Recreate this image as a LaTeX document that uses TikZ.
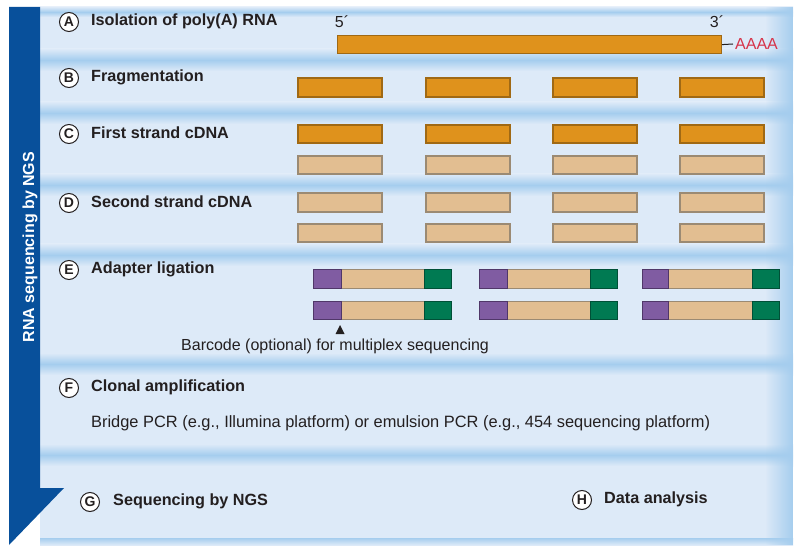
\documentclass[tikz,border=0pt]{standalone}
\usepackage{fontspec}
\setmainfont{Liberation Sans}
\usetikzlibrary{fadings}
\definecolor{panel}{RGB}{221,234,248}
\definecolor{stripe}{RGB}{165,205,238}
\definecolor{barblue}{RGB}{8,80,155}
\definecolor{orangeF}{RGB}{223,146,28}
\definecolor{orangeD}{RGB}{160,105,20}
\definecolor{tanF}{RGB}{226,190,145}
\definecolor{tanD}{RGB}{155,138,115}
\definecolor{purpF}{RGB}{128,92,162}
\definecolor{purpD}{RGB}{80,55,105}
\definecolor{greenF}{RGB}{0,122,82}
\definecolor{greenD}{RGB}{0,80,55}
\definecolor{polyA}{RGB}{214,52,74}
\definecolor{ink}{RGB}{35,31,32}
\tikzfading[name=fadeinright, left color=transparent!100, right color=transparent!0]
\tikzset{
  lbl/.style={font=\fontsize{16.2}{18}\selectfont\bfseries, text=ink, anchor=west, inner sep=0pt},
  plain/.style={font=\fontsize{16}{18}\selectfont, text=ink, inner sep=0pt},
  circ/.style={circle, draw=ink, line width=1pt, fill=white, minimum size=19pt, inner sep=0pt,
    font=\fontsize{14}{14}\selectfont\bfseries, text=ink},
  obar/.style={fill=orangeF, draw=orangeD, line width=1.2pt},
  tbar/.style={fill=tanF, draw=tanD, line width=1.2pt},
  pbar/.style={fill=purpF, draw=purpD, line width=1pt},
  gbar/.style={fill=greenF, draw=greenD, line width=1pt},
  sep/.style={top color=panel, bottom color=panel, middle color=stripe},
}
\begin{document}
\begin{tikzpicture}[x=1pt,y=-1pt]
\useasboundingbox (0,0) rectangle (800,553);
\fill[white] (0,0) rectangle (800,553);
% panel background
\fill[panel] (40,7) rectangle (793,545);
\shade[sep] (40,7) rectangle (793,17);
\foreach \s in {60,113,185,255,364,455} {
  \shade[sep] (40,\s-11) rectangle (793,\s+11);
}
\shade[top color=stripe, bottom color=panel] (40,545) rectangle (793,538);
\fill[stripe, path fading=fadeinright] (765,7) rectangle (793,545);
% left bar
\fill[barblue] (9,7) -- (40,7) -- (40,488) -- (64,488) -- (9,545) -- cycle;
\node[font=\fontsize{16}{18}\selectfont\bfseries, text=white, rotate=90, anchor=base, inner sep=0pt]
  (title) at (34,247) {RNA sequencing by NGS};
% step labels
\node[circ] (cA) at (69,22) {A};
\node[lbl] (tA) at (91,21) {Isolation of poly(A) RNA};
\node[circ] (cB) at (69,78) {B};
\node[lbl] (tB) at (91,77) {Fragmentation};
\node[circ] (cC) at (69,134) {C};
\node[lbl] (tC) at (91,133) {First strand cDNA};
\node[circ] (cD) at (69,203) {D};
\node[lbl] (tD) at (91,202) {Second strand cDNA};
\node[circ] (cE) at (69,270) {E};
\node[lbl] (tE) at (91,269) {Adapter ligation};
\node[circ] (cF) at (69,388) {F};
\node[lbl] (tF) at (91,387) {Clonal amplification};
\node[circ] (cG) at (90,502) {G};
\node[lbl] (tG) at (113,501) {Sequencing by NGS};
\node[circ] (cH) at (582,500) {H};
\node[lbl] (tH) at (604,499) {Data analysis};
% A: poly(A) RNA
\node[obar, minimum width=384pt, minimum height=18pt, anchor=north west, inner sep=0pt] (rna) at (337,35) {};
\node[plain] (five) at (342,22) {5´};
\node[plain] (three) at (717,22) {3´};
\node[plain, text=polyA, anchor=west] (tail) at (735,44) {AAAA};
\draw[ink, line width=1pt] (rna.east) -- ([xshift=-2pt]tail.west);
% B, C, D fragments
\foreach \x in {298,426,553,680} {
  \draw[obar] (\x,78) rectangle (\x+84,97);
  \draw[obar] (\x,125) rectangle (\x+84,143);
  \draw[tbar] (\x,156) rectangle (\x+84,174);
  \draw[tbar] (\x,193) rectangle (\x+84,212);
  \draw[tbar] (\x,224) rectangle (\x+84,242);
}
% E adapters
\foreach \a/\b/\c/\d in {313/341/424/451, 479/507/590/617, 642/668/752/779} {
  \foreach \y in {270,301} {
    \draw[tbar, line width=1pt] (\b,\y) rectangle (\c,\y+18);
    \draw[pbar] (\a,\y) rectangle (\b,\y+18);
    \draw[gbar] (\c,\y) rectangle (\d,\y+18);
  }
}
\fill[ink] (335.5,334) -- (344.5,334) -- (340,325) -- cycle;
\node[plain, anchor=west] (barcode) at (181,346) {Barcode (optional) for multiplex sequencing};
% F text
\node[plain, anchor=west, font=\fontsize{16.4}{18}\selectfont] (bridge) at (91,423) {Bridge PCR (e.g., Illumina platform) or emulsion PCR (e.g., 454 sequencing platform)};
\end{tikzpicture}
\end{document}
